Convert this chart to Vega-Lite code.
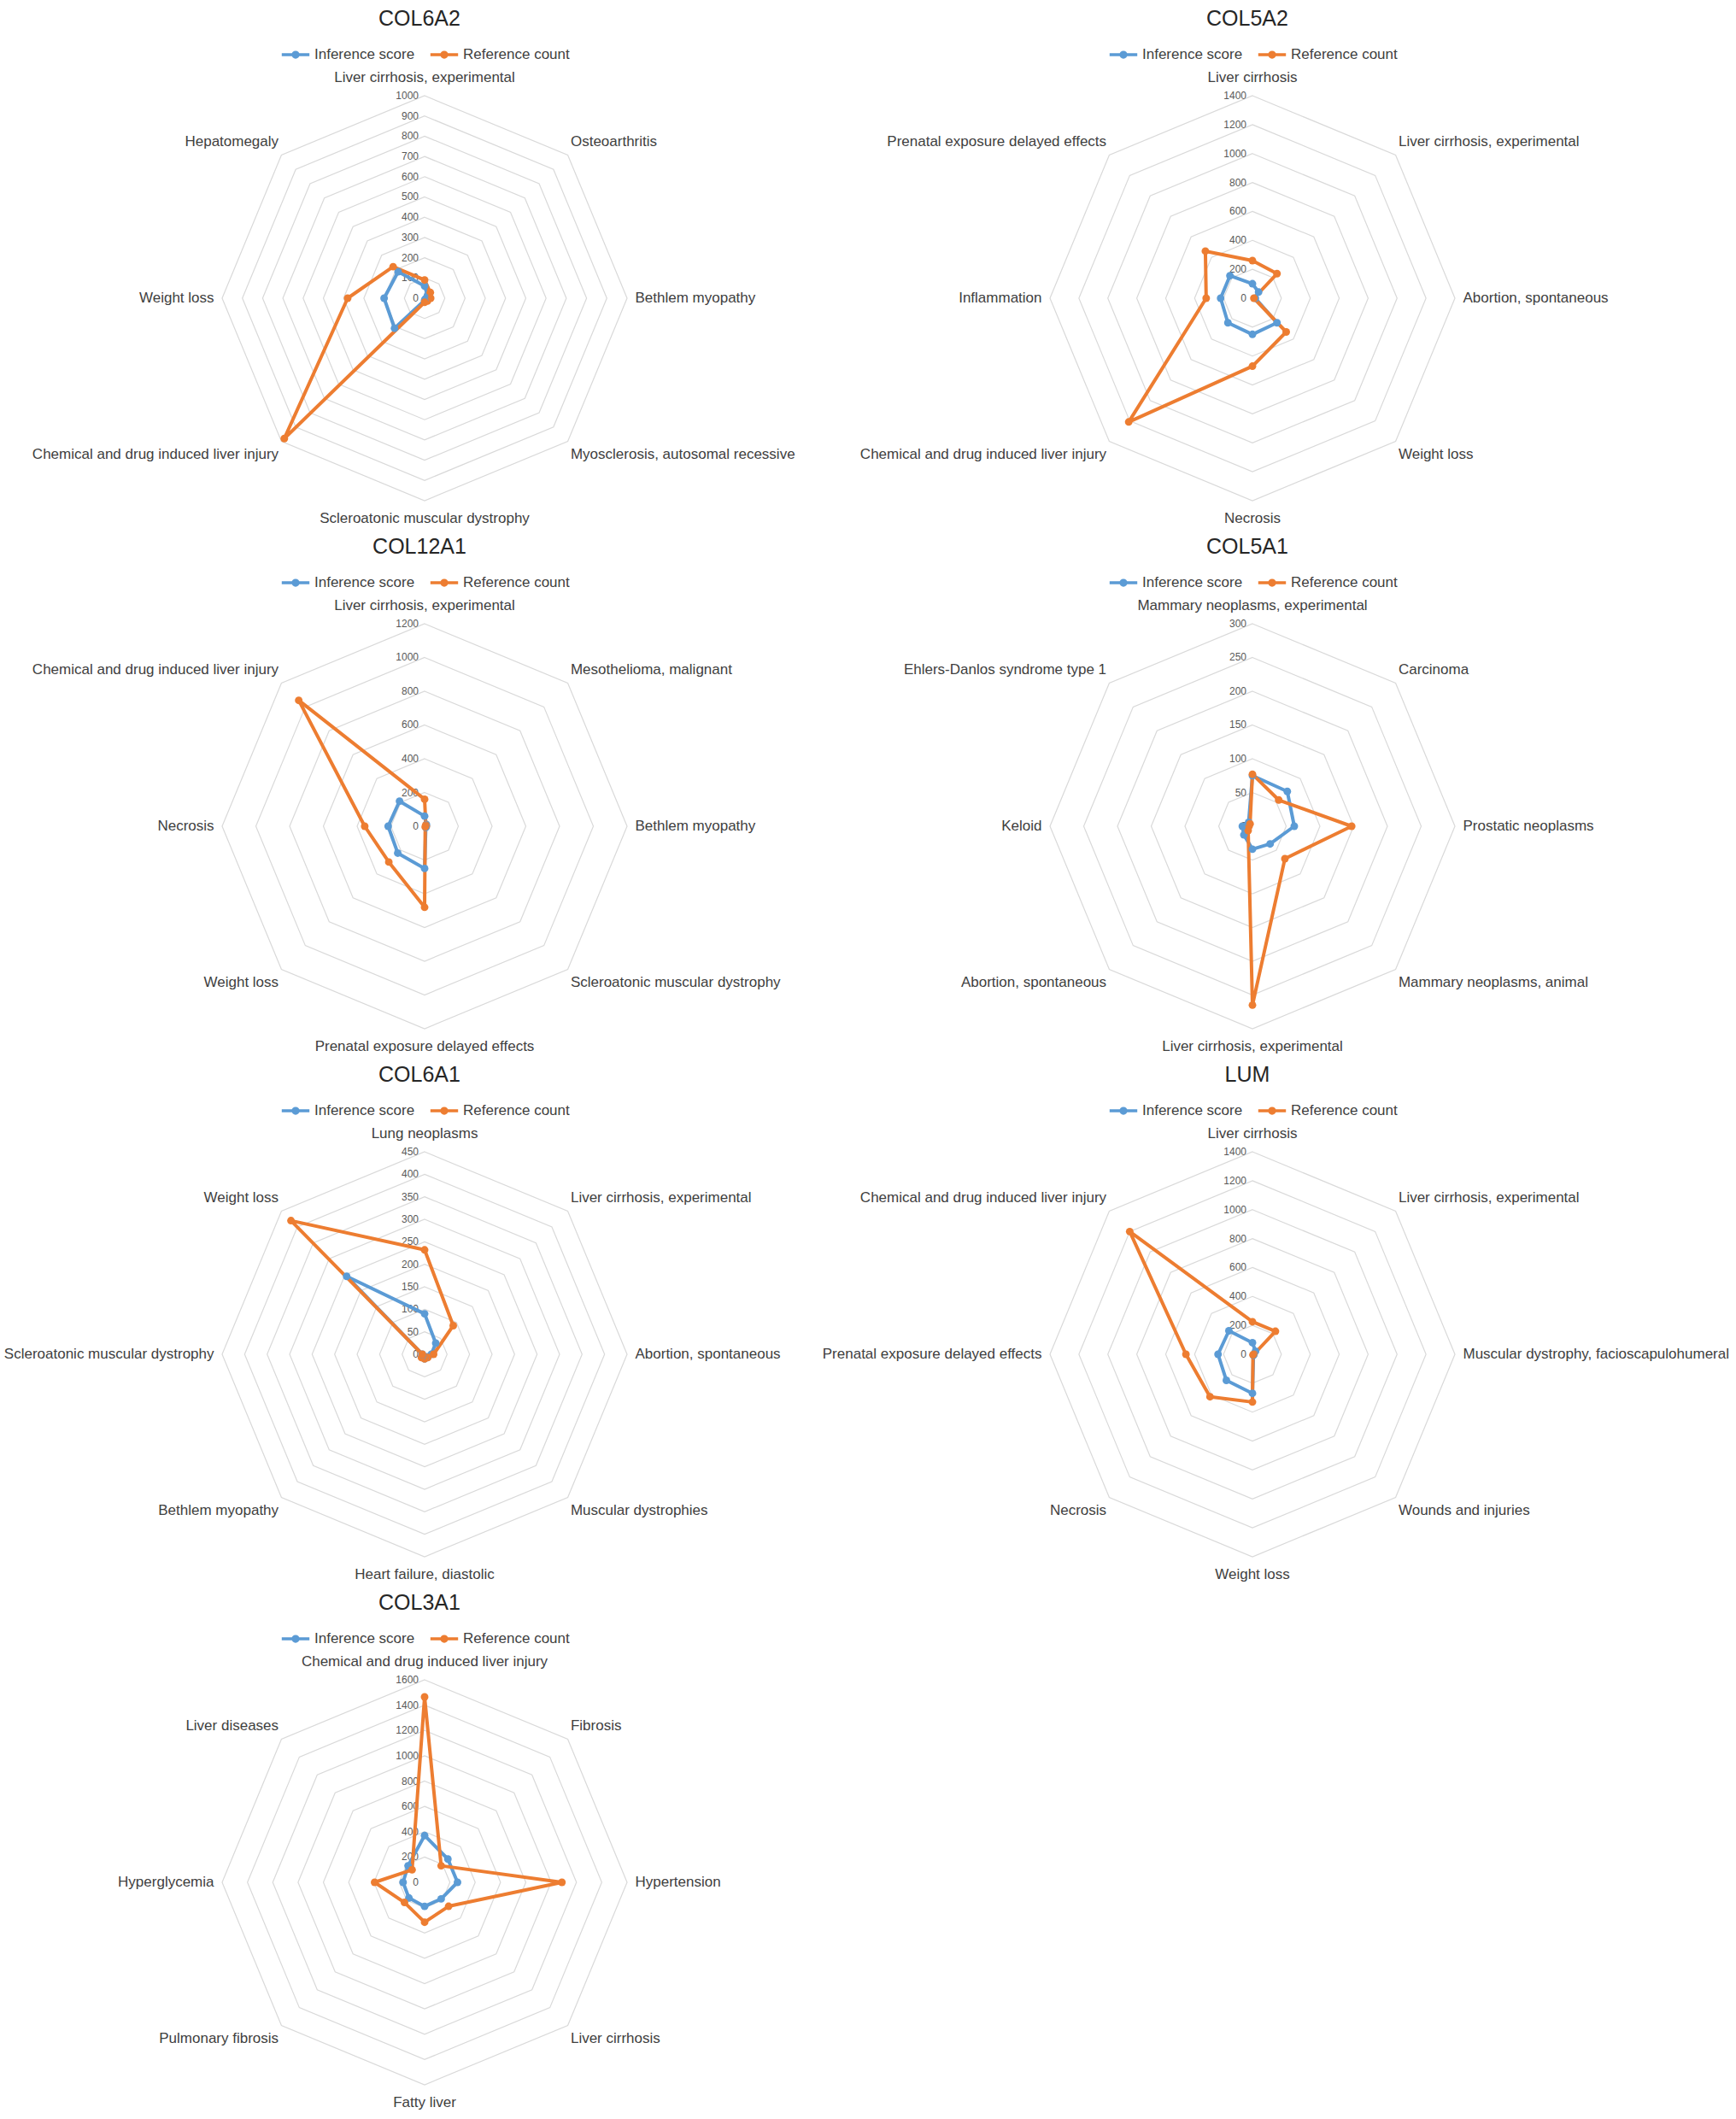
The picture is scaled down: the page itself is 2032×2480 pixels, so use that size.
{
"$schema": "https://vega.github.io/schema/vega-lite/v6.json",
"padding": {"left": 0, "top": 10, "right": 0, "bottom": 0},
"columns": 2,
"align": "each",
"bounds": "flush",
"spacing": {"row": 78, "column": 11},
"resolve": {"scale": {"color": "independent", "size": "independent"}, "legend": {"color": "independent"}},
"datasets": {
"vals": [
{"gene":"COL6A2","k":0,"disease":"Liver cirrhosis, experimental","inference":60,"reference":90},
{"gene":"COL6A2","k":1,"disease":"Osteoarthritis","inference":20,"reference":40},
{"gene":"COL6A2","k":2,"disease":"Bethlem myopathy","inference":10,"reference":30},
{"gene":"COL6A2","k":3,"disease":"Myosclerosis, autosomal recessive","inference":5,"reference":20},
{"gene":"COL6A2","k":4,"disease":"Scleroatonic muscular dystrophy","inference":10,"reference":20},
{"gene":"COL6A2","k":5,"disease":"Chemical and drug induced liver injury","inference":210,"reference":980},
{"gene":"COL6A2","k":6,"disease":"Weight loss","inference":200,"reference":380},
{"gene":"COL6A2","k":7,"disease":"Hepatomegaly","inference":185,"reference":220},
{"gene":"COL5A2","k":0,"disease":"Liver cirrhosis","inference":100,"reference":260},
{"gene":"COL5A2","k":1,"disease":"Liver cirrhosis, experimental","inference":60,"reference":240},
{"gene":"COL5A2","k":2,"disease":"Abortion, spontaneous","inference":20,"reference":10},
{"gene":"COL5A2","k":3,"disease":"Weight loss","inference":240,"reference":330},
{"gene":"COL5A2","k":4,"disease":"Necrosis","inference":250,"reference":470},
{"gene":"COL5A2","k":5,"disease":"Chemical and drug induced liver injury","inference":240,"reference":1210},
{"gene":"COL5A2","k":6,"disease":"Inflammation","inference":220,"reference":320},
{"gene":"COL5A2","k":7,"disease":"Prenatal exposure delayed effects","inference":220,"reference":460},
{"gene":"COL12A1","k":0,"disease":"Liver cirrhosis, experimental","inference":60,"reference":160},
{"gene":"COL12A1","k":1,"disease":"Mesothelioma, malignant","inference":15,"reference":10},
{"gene":"COL12A1","k":2,"disease":"Bethlem myopathy","inference":10,"reference":10},
{"gene":"COL12A1","k":3,"disease":"Scleroatonic muscular dystrophy","inference":10,"reference":5},
{"gene":"COL12A1","k":4,"disease":"Prenatal exposure delayed effects","inference":250,"reference":480},
{"gene":"COL12A1","k":5,"disease":"Weight loss","inference":225,"reference":300},
{"gene":"COL12A1","k":6,"disease":"Necrosis","inference":216,"reference":355},
{"gene":"COL12A1","k":7,"disease":"Chemical and drug induced liver injury","inference":210,"reference":1055},
{"gene":"COL5A1","k":0,"disease":"Mammary neoplasms, experimental","inference":75,"reference":77},
{"gene":"COL5A1","k":1,"disease":"Carcinoma","inference":73,"reference":55},
{"gene":"COL5A1","k":2,"disease":"Prostatic neoplasms","inference":62,"reference":147},
{"gene":"COL5A1","k":3,"disease":"Mammary neoplasms, animal","inference":37,"reference":68},
{"gene":"COL5A1","k":4,"disease":"Liver cirrhosis, experimental","inference":34,"reference":265},
{"gene":"COL5A1","k":5,"disease":"Abortion, spontaneous","inference":18,"reference":9},
{"gene":"COL5A1","k":6,"disease":"Keloid","inference":15,"reference":5},
{"gene":"COL5A1","k":7,"disease":"Ehlers-Danlos syndrome type 1","inference":8,"reference":5},
{"gene":"COL6A1","k":0,"disease":"Lung neoplasms","inference":90,"reference":232},
{"gene":"COL6A1","k":1,"disease":"Liver cirrhosis, experimental","inference":35,"reference":90},
{"gene":"COL6A1","k":2,"disease":"Abortion, spontaneous","inference":15,"reference":20},
{"gene":"COL6A1","k":3,"disease":"Muscular dystrophies","inference":8,"reference":10},
{"gene":"COL6A1","k":4,"disease":"Heart failure, diastolic","inference":10,"reference":10},
{"gene":"COL6A1","k":5,"disease":"Bethlem myopathy","inference":8,"reference":10},
{"gene":"COL6A1","k":6,"disease":"Scleroatonic muscular dystrophy","inference":5,"reference":5},
{"gene":"COL6A1","k":7,"disease":"Weight loss","inference":245,"reference":420},
{"gene":"LUM","k":0,"disease":"Liver cirrhosis","inference":80,"reference":225},
{"gene":"LUM","k":1,"disease":"Liver cirrhosis, experimental","inference":30,"reference":225},
{"gene":"LUM","k":2,"disease":"Muscular dystrophy, facioscapulohumeral","inference":10,"reference":10},
{"gene":"LUM","k":3,"disease":"Wounds and injuries","inference":10,"reference":5},
{"gene":"LUM","k":4,"disease":"Weight loss","inference":270,"reference":330},
{"gene":"LUM","k":5,"disease":"Necrosis","inference":255,"reference":415},
{"gene":"LUM","k":6,"disease":"Prenatal exposure delayed effects","inference":238,"reference":460},
{"gene":"LUM","k":7,"disease":"Chemical and drug induced liver injury","inference":230,"reference":1200},
{"gene":"COL3A1","k":0,"disease":"Chemical and drug induced liver injury","inference":370,"reference":1465},
{"gene":"COL3A1","k":1,"disease":"Fibrosis","inference":260,"reference":185},
{"gene":"COL3A1","k":2,"disease":"Hypertension","inference":260,"reference":1085},
{"gene":"COL3A1","k":3,"disease":"Liver cirrhosis","inference":185,"reference":268},
{"gene":"COL3A1","k":4,"disease":"Fatty liver","inference":190,"reference":315},
{"gene":"COL3A1","k":5,"disease":"Pulmonary fibrosis","inference":175,"reference":225},
{"gene":"COL3A1","k":6,"disease":"Hyperglycemia","inference":170,"reference":395},
{"gene":"COL3A1","k":7,"disease":"Liver diseases","inference":185,"reference":140}
],
"rings": [
{"gene":"COL6A2","tick":0},{"gene":"COL6A2","tick":100},{"gene":"COL6A2","tick":200},{"gene":"COL6A2","tick":300},{"gene":"COL6A2","tick":400},{"gene":"COL6A2","tick":500},{"gene":"COL6A2","tick":600},{"gene":"COL6A2","tick":700},{"gene":"COL6A2","tick":800},{"gene":"COL6A2","tick":900},{"gene":"COL6A2","tick":1000},
{"gene":"COL5A2","tick":0},{"gene":"COL5A2","tick":200},{"gene":"COL5A2","tick":400},{"gene":"COL5A2","tick":600},{"gene":"COL5A2","tick":800},{"gene":"COL5A2","tick":1000},{"gene":"COL5A2","tick":1200},{"gene":"COL5A2","tick":1400},
{"gene":"COL12A1","tick":0},{"gene":"COL12A1","tick":200},{"gene":"COL12A1","tick":400},{"gene":"COL12A1","tick":600},{"gene":"COL12A1","tick":800},{"gene":"COL12A1","tick":1000},{"gene":"COL12A1","tick":1200},
{"gene":"COL5A1","tick":0},{"gene":"COL5A1","tick":50},{"gene":"COL5A1","tick":100},{"gene":"COL5A1","tick":150},{"gene":"COL5A1","tick":200},{"gene":"COL5A1","tick":250},{"gene":"COL5A1","tick":300},
{"gene":"COL6A1","tick":0},{"gene":"COL6A1","tick":50},{"gene":"COL6A1","tick":100},{"gene":"COL6A1","tick":150},{"gene":"COL6A1","tick":200},{"gene":"COL6A1","tick":250},{"gene":"COL6A1","tick":300},{"gene":"COL6A1","tick":350},{"gene":"COL6A1","tick":400},{"gene":"COL6A1","tick":450},
{"gene":"LUM","tick":0},{"gene":"LUM","tick":200},{"gene":"LUM","tick":400},{"gene":"LUM","tick":600},{"gene":"LUM","tick":800},{"gene":"LUM","tick":1000},{"gene":"LUM","tick":1200},{"gene":"LUM","tick":1400},
{"gene":"COL3A1","tick":0},{"gene":"COL3A1","tick":200},{"gene":"COL3A1","tick":400},{"gene":"COL3A1","tick":600},{"gene":"COL3A1","tick":800},{"gene":"COL3A1","tick":1000},{"gene":"COL3A1","tick":1200},{"gene":"COL3A1","tick":1400},{"gene":"COL3A1","tick":1600}
]
},
"concat": [
{
"title": {"text": "COL6A2"},
"width": 994, "height": 540,
"layer": [
{"data": {"name": "rings"}, "transform": [{"filter": "datum.gene === 'COL6A2'"}],
 "mark": {"type": "point", "shape": "M0,-1L0.70711,-0.70711L1,0L0.70711,0.70711L0,1L-0.70711,0.70711L-1,0L-0.70711,-0.70711Z", "filled": false, "stroke": "#d9d9d9", "strokeWidth": 1.2, "opacity": 1},
 "encoding": {
  "x": {"datum": 0, "type": "quantitative", "scale": {"domain": [-2.09705, 2.09705], "nice": false, "zero": false}, "axis": null},
  "y": {"datum": 0, "type": "quantitative", "scale": {"domain": [-1.13924, 1.13924], "nice": false, "zero": false}, "axis": null},
  "size": {"field": "tick", "type": "quantitative", "scale": {"type": "pow", "exponent": 2, "domain": [0, 1000], "range": [0, 224676]}, "legend": null}}},
{"data": {"name": "rings"}, "transform": [{"filter": "datum.gene === 'COL6A2'"}, {"calculate": "datum.tick / 1000", "as": "ty"}],
 "mark": {"type": "text", "align": "right", "baseline": "middle", "dx": -7, "fontSize": 12, "color": "#595959"},
 "encoding": {"x": {"datum": 0, "type": "quantitative"}, "y": {"field": "ty", "type": "quantitative"}, "text": {"field": "tick", "type": "quantitative", "format": "d"}}},
{"data": {"name": "vals"}, "transform": [{"filter": "datum.gene === 'COL6A2' && datum.k >= 1 && datum.k <= 3"}, {"calculate": "sin(datum.k*PI/4) + 0.04*pow(sin(datum.k*PI/4),3)", "as": "lx"}, {"calculate": "1.09*cos(datum.k*PI/4)", "as": "ly"}],
 "mark": {"type": "text", "align": "left", "baseline": "middle", "fontSize": 17, "color": "#404040"},
 "encoding": {"x": {"field": "lx", "type": "quantitative"}, "y": {"field": "ly", "type": "quantitative"}, "text": {"field": "disease"}}},
{"data": {"name": "vals"}, "transform": [{"filter": "datum.gene === 'COL6A2' && datum.k >= 5"}, {"calculate": "sin(datum.k*PI/4) + 0.04*pow(sin(datum.k*PI/4),3)", "as": "lx"}, {"calculate": "1.09*cos(datum.k*PI/4)", "as": "ly"}],
 "mark": {"type": "text", "align": "right", "baseline": "middle", "fontSize": 17, "color": "#404040"},
 "encoding": {"x": {"field": "lx", "type": "quantitative"}, "y": {"field": "ly", "type": "quantitative"}, "text": {"field": "disease"}}},
{"data": {"name": "vals"}, "transform": [{"filter": "datum.gene === 'COL6A2' && (datum.k === 0 || datum.k === 4)"}, {"calculate": "0", "as": "lx"}, {"calculate": "1.09*cos(datum.k*PI/4)", "as": "ly"}],
 "mark": {"type": "text", "align": "center", "baseline": "middle", "fontSize": 17, "color": "#404040"},
 "encoding": {"x": {"field": "lx", "type": "quantitative"}, "y": {"field": "ly", "type": "quantitative"}, "text": {"field": "disease"}}},
{"data": {"name": "vals"}, "transform": [{"filter": "datum.gene === 'COL6A2'"}, {"fold": ["inference", "reference"], "as": ["key", "value"]}, {"calculate": "datum.key === 'inference' ? 'Inference score' : 'Reference count'", "as": "series"}, {"calculate": "datum.value / 1000 * sin(datum.k*PI/4)", "as": "px"}, {"calculate": "datum.value / 1000 * cos(datum.k*PI/4)", "as": "py"}],
 "mark": {"type": "line", "interpolate": "linear-closed", "strokeWidth": 4, "strokeJoin": "round", "point": {"filled": true, "size": 80, "opacity": 1}},
 "encoding": {"x": {"field": "px", "type": "quantitative"}, "y": {"field": "py", "type": "quantitative"}, "order": {"field": "k", "type": "quantitative"},
  "color": {"field": "series", "type": "nominal", "scale": {"domain": ["Inference score", "Reference count"], "range": ["#5b9bd5", "#ed7d31"]}, "legend": {"title": null}}}}
]
},
{
"title": {"text": "COL5A2"},
"width": 922, "height": 540,
"layer": [
{"data": {"name": "rings"}, "transform": [{"filter": "datum.gene === 'COL5A2'"}],
 "mark": {"type": "point", "shape": "M0,-1L0.70711,-0.70711L1,0L0.70711,0.70711L0,1L-0.70711,0.70711L-1,0L-0.70711,-0.70711Z", "filled": false, "stroke": "#d9d9d9", "strokeWidth": 1.2, "opacity": 1},
 "encoding": {
  "x": {"datum": 0, "type": "quantitative", "scale": {"domain": [-1.94515, 1.94515], "nice": false, "zero": false}, "axis": null},
  "y": {"datum": 0, "type": "quantitative", "scale": {"domain": [-1.13924, 1.13924], "nice": false, "zero": false}, "axis": null},
  "size": {"field": "tick", "type": "quantitative", "scale": {"type": "pow", "exponent": 2, "domain": [0, 1400], "range": [0, 224676]}, "legend": null}}},
{"data": {"name": "rings"}, "transform": [{"filter": "datum.gene === 'COL5A2'"}, {"calculate": "datum.tick / 1400", "as": "ty"}],
 "mark": {"type": "text", "align": "right", "baseline": "middle", "dx": -7, "fontSize": 12, "color": "#595959"},
 "encoding": {"x": {"datum": 0, "type": "quantitative"}, "y": {"field": "ty", "type": "quantitative"}, "text": {"field": "tick", "type": "quantitative", "format": "d"}}},
{"data": {"name": "vals"}, "transform": [{"filter": "datum.gene === 'COL5A2' && datum.k >= 1 && datum.k <= 3"}, {"calculate": "sin(datum.k*PI/4) + 0.04*pow(sin(datum.k*PI/4),3)", "as": "lx"}, {"calculate": "1.09*cos(datum.k*PI/4)", "as": "ly"}],
 "mark": {"type": "text", "align": "left", "baseline": "middle", "fontSize": 17, "color": "#404040"},
 "encoding": {"x": {"field": "lx", "type": "quantitative"}, "y": {"field": "ly", "type": "quantitative"}, "text": {"field": "disease"}}},
{"data": {"name": "vals"}, "transform": [{"filter": "datum.gene === 'COL5A2' && datum.k >= 5"}, {"calculate": "sin(datum.k*PI/4) + 0.04*pow(sin(datum.k*PI/4),3)", "as": "lx"}, {"calculate": "1.09*cos(datum.k*PI/4)", "as": "ly"}],
 "mark": {"type": "text", "align": "right", "baseline": "middle", "fontSize": 17, "color": "#404040"},
 "encoding": {"x": {"field": "lx", "type": "quantitative"}, "y": {"field": "ly", "type": "quantitative"}, "text": {"field": "disease"}}},
{"data": {"name": "vals"}, "transform": [{"filter": "datum.gene === 'COL5A2' && (datum.k === 0 || datum.k === 4)"}, {"calculate": "0", "as": "lx"}, {"calculate": "1.09*cos(datum.k*PI/4)", "as": "ly"}],
 "mark": {"type": "text", "align": "center", "baseline": "middle", "fontSize": 17, "color": "#404040"},
 "encoding": {"x": {"field": "lx", "type": "quantitative"}, "y": {"field": "ly", "type": "quantitative"}, "text": {"field": "disease"}}},
{"data": {"name": "vals"}, "transform": [{"filter": "datum.gene === 'COL5A2'"}, {"fold": ["inference", "reference"], "as": ["key", "value"]}, {"calculate": "datum.key === 'inference' ? 'Inference score' : 'Reference count'", "as": "series"}, {"calculate": "datum.value / 1400 * sin(datum.k*PI/4)", "as": "px"}, {"calculate": "datum.value / 1400 * cos(datum.k*PI/4)", "as": "py"}],
 "mark": {"type": "line", "interpolate": "linear-closed", "strokeWidth": 4, "strokeJoin": "round", "point": {"filled": true, "size": 80, "opacity": 1}},
 "encoding": {"x": {"field": "px", "type": "quantitative"}, "y": {"field": "py", "type": "quantitative"}, "order": {"field": "k", "type": "quantitative"},
  "color": {"field": "series", "type": "nominal", "scale": {"domain": ["Inference score", "Reference count"], "range": ["#5b9bd5", "#ed7d31"]}, "legend": {"title": null}}}}
]
},
{
"title": {"text": "COL12A1"},
"width": 994, "height": 540,
"layer": [
{"data": {"name": "rings"}, "transform": [{"filter": "datum.gene === 'COL12A1'"}],
 "mark": {"type": "point", "shape": "M0,-1L0.70711,-0.70711L1,0L0.70711,0.70711L0,1L-0.70711,0.70711L-1,0L-0.70711,-0.70711Z", "filled": false, "stroke": "#d9d9d9", "strokeWidth": 1.2, "opacity": 1},
 "encoding": {
  "x": {"datum": 0, "type": "quantitative", "scale": {"domain": [-2.09705, 2.09705], "nice": false, "zero": false}, "axis": null},
  "y": {"datum": 0, "type": "quantitative", "scale": {"domain": [-1.13924, 1.13924], "nice": false, "zero": false}, "axis": null},
  "size": {"field": "tick", "type": "quantitative", "scale": {"type": "pow", "exponent": 2, "domain": [0, 1200], "range": [0, 224676]}, "legend": null}}},
{"data": {"name": "rings"}, "transform": [{"filter": "datum.gene === 'COL12A1'"}, {"calculate": "datum.tick / 1200", "as": "ty"}],
 "mark": {"type": "text", "align": "right", "baseline": "middle", "dx": -7, "fontSize": 12, "color": "#595959"},
 "encoding": {"x": {"datum": 0, "type": "quantitative"}, "y": {"field": "ty", "type": "quantitative"}, "text": {"field": "tick", "type": "quantitative", "format": "d"}}},
{"data": {"name": "vals"}, "transform": [{"filter": "datum.gene === 'COL12A1' && datum.k >= 1 && datum.k <= 3"}, {"calculate": "sin(datum.k*PI/4) + 0.04*pow(sin(datum.k*PI/4),3)", "as": "lx"}, {"calculate": "1.09*cos(datum.k*PI/4)", "as": "ly"}],
 "mark": {"type": "text", "align": "left", "baseline": "middle", "fontSize": 17, "color": "#404040"},
 "encoding": {"x": {"field": "lx", "type": "quantitative"}, "y": {"field": "ly", "type": "quantitative"}, "text": {"field": "disease"}}},
{"data": {"name": "vals"}, "transform": [{"filter": "datum.gene === 'COL12A1' && datum.k >= 5"}, {"calculate": "sin(datum.k*PI/4) + 0.04*pow(sin(datum.k*PI/4),3)", "as": "lx"}, {"calculate": "1.09*cos(datum.k*PI/4)", "as": "ly"}],
 "mark": {"type": "text", "align": "right", "baseline": "middle", "fontSize": 17, "color": "#404040"},
 "encoding": {"x": {"field": "lx", "type": "quantitative"}, "y": {"field": "ly", "type": "quantitative"}, "text": {"field": "disease"}}},
{"data": {"name": "vals"}, "transform": [{"filter": "datum.gene === 'COL12A1' && (datum.k === 0 || datum.k === 4)"}, {"calculate": "0", "as": "lx"}, {"calculate": "1.09*cos(datum.k*PI/4)", "as": "ly"}],
 "mark": {"type": "text", "align": "center", "baseline": "middle", "fontSize": 17, "color": "#404040"},
 "encoding": {"x": {"field": "lx", "type": "quantitative"}, "y": {"field": "ly", "type": "quantitative"}, "text": {"field": "disease"}}},
{"data": {"name": "vals"}, "transform": [{"filter": "datum.gene === 'COL12A1'"}, {"fold": ["inference", "reference"], "as": ["key", "value"]}, {"calculate": "datum.key === 'inference' ? 'Inference score' : 'Reference count'", "as": "series"}, {"calculate": "datum.value / 1200 * sin(datum.k*PI/4)", "as": "px"}, {"calculate": "datum.value / 1200 * cos(datum.k*PI/4)", "as": "py"}],
 "mark": {"type": "line", "interpolate": "linear-closed", "strokeWidth": 4, "strokeJoin": "round", "point": {"filled": true, "size": 80, "opacity": 1}},
 "encoding": {"x": {"field": "px", "type": "quantitative"}, "y": {"field": "py", "type": "quantitative"}, "order": {"field": "k", "type": "quantitative"},
  "color": {"field": "series", "type": "nominal", "scale": {"domain": ["Inference score", "Reference count"], "range": ["#5b9bd5", "#ed7d31"]}, "legend": {"title": null}}}}
]
},
{
"title": {"text": "COL5A1"},
"width": 922, "height": 540,
"layer": [
{"data": {"name": "rings"}, "transform": [{"filter": "datum.gene === 'COL5A1'"}],
 "mark": {"type": "point", "shape": "M0,-1L0.70711,-0.70711L1,0L0.70711,0.70711L0,1L-0.70711,0.70711L-1,0L-0.70711,-0.70711Z", "filled": false, "stroke": "#d9d9d9", "strokeWidth": 1.2, "opacity": 1},
 "encoding": {
  "x": {"datum": 0, "type": "quantitative", "scale": {"domain": [-1.94515, 1.94515], "nice": false, "zero": false}, "axis": null},
  "y": {"datum": 0, "type": "quantitative", "scale": {"domain": [-1.13924, 1.13924], "nice": false, "zero": false}, "axis": null},
  "size": {"field": "tick", "type": "quantitative", "scale": {"type": "pow", "exponent": 2, "domain": [0, 300], "range": [0, 224676]}, "legend": null}}},
{"data": {"name": "rings"}, "transform": [{"filter": "datum.gene === 'COL5A1'"}, {"calculate": "datum.tick / 300", "as": "ty"}],
 "mark": {"type": "text", "align": "right", "baseline": "middle", "dx": -7, "fontSize": 12, "color": "#595959"},
 "encoding": {"x": {"datum": 0, "type": "quantitative"}, "y": {"field": "ty", "type": "quantitative"}, "text": {"field": "tick", "type": "quantitative", "format": "d"}}},
{"data": {"name": "vals"}, "transform": [{"filter": "datum.gene === 'COL5A1' && datum.k >= 1 && datum.k <= 3"}, {"calculate": "sin(datum.k*PI/4) + 0.04*pow(sin(datum.k*PI/4),3)", "as": "lx"}, {"calculate": "1.09*cos(datum.k*PI/4)", "as": "ly"}],
 "mark": {"type": "text", "align": "left", "baseline": "middle", "fontSize": 17, "color": "#404040"},
 "encoding": {"x": {"field": "lx", "type": "quantitative"}, "y": {"field": "ly", "type": "quantitative"}, "text": {"field": "disease"}}},
{"data": {"name": "vals"}, "transform": [{"filter": "datum.gene === 'COL5A1' && datum.k >= 5"}, {"calculate": "sin(datum.k*PI/4) + 0.04*pow(sin(datum.k*PI/4),3)", "as": "lx"}, {"calculate": "1.09*cos(datum.k*PI/4)", "as": "ly"}],
 "mark": {"type": "text", "align": "right", "baseline": "middle", "fontSize": 17, "color": "#404040"},
 "encoding": {"x": {"field": "lx", "type": "quantitative"}, "y": {"field": "ly", "type": "quantitative"}, "text": {"field": "disease"}}},
{"data": {"name": "vals"}, "transform": [{"filter": "datum.gene === 'COL5A1' && (datum.k === 0 || datum.k === 4)"}, {"calculate": "0", "as": "lx"}, {"calculate": "1.09*cos(datum.k*PI/4)", "as": "ly"}],
 "mark": {"type": "text", "align": "center", "baseline": "middle", "fontSize": 17, "color": "#404040"},
 "encoding": {"x": {"field": "lx", "type": "quantitative"}, "y": {"field": "ly", "type": "quantitative"}, "text": {"field": "disease"}}},
{"data": {"name": "vals"}, "transform": [{"filter": "datum.gene === 'COL5A1'"}, {"fold": ["inference", "reference"], "as": ["key", "value"]}, {"calculate": "datum.key === 'inference' ? 'Inference score' : 'Reference count'", "as": "series"}, {"calculate": "datum.value / 300 * sin(datum.k*PI/4)", "as": "px"}, {"calculate": "datum.value / 300 * cos(datum.k*PI/4)", "as": "py"}],
 "mark": {"type": "line", "interpolate": "linear-closed", "strokeWidth": 4, "strokeJoin": "round", "point": {"filled": true, "size": 80, "opacity": 1}},
 "encoding": {"x": {"field": "px", "type": "quantitative"}, "y": {"field": "py", "type": "quantitative"}, "order": {"field": "k", "type": "quantitative"},
  "color": {"field": "series", "type": "nominal", "scale": {"domain": ["Inference score", "Reference count"], "range": ["#5b9bd5", "#ed7d31"]}, "legend": {"title": null}}}}
]
},
{
"title": {"text": "COL6A1"},
"width": 994, "height": 540,
"layer": [
{"data": {"name": "rings"}, "transform": [{"filter": "datum.gene === 'COL6A1'"}],
 "mark": {"type": "point", "shape": "M0,-1L0.70711,-0.70711L1,0L0.70711,0.70711L0,1L-0.70711,0.70711L-1,0L-0.70711,-0.70711Z", "filled": false, "stroke": "#d9d9d9", "strokeWidth": 1.2, "opacity": 1},
 "encoding": {
  "x": {"datum": 0, "type": "quantitative", "scale": {"domain": [-2.09705, 2.09705], "nice": false, "zero": false}, "axis": null},
  "y": {"datum": 0, "type": "quantitative", "scale": {"domain": [-1.13924, 1.13924], "nice": false, "zero": false}, "axis": null},
  "size": {"field": "tick", "type": "quantitative", "scale": {"type": "pow", "exponent": 2, "domain": [0, 450], "range": [0, 224676]}, "legend": null}}},
{"data": {"name": "rings"}, "transform": [{"filter": "datum.gene === 'COL6A1'"}, {"calculate": "datum.tick / 450", "as": "ty"}],
 "mark": {"type": "text", "align": "right", "baseline": "middle", "dx": -7, "fontSize": 12, "color": "#595959"},
 "encoding": {"x": {"datum": 0, "type": "quantitative"}, "y": {"field": "ty", "type": "quantitative"}, "text": {"field": "tick", "type": "quantitative", "format": "d"}}},
{"data": {"name": "vals"}, "transform": [{"filter": "datum.gene === 'COL6A1' && datum.k >= 1 && datum.k <= 3"}, {"calculate": "sin(datum.k*PI/4) + 0.04*pow(sin(datum.k*PI/4),3)", "as": "lx"}, {"calculate": "1.09*cos(datum.k*PI/4)", "as": "ly"}],
 "mark": {"type": "text", "align": "left", "baseline": "middle", "fontSize": 17, "color": "#404040"},
 "encoding": {"x": {"field": "lx", "type": "quantitative"}, "y": {"field": "ly", "type": "quantitative"}, "text": {"field": "disease"}}},
{"data": {"name": "vals"}, "transform": [{"filter": "datum.gene === 'COL6A1' && datum.k >= 5"}, {"calculate": "sin(datum.k*PI/4) + 0.04*pow(sin(datum.k*PI/4),3)", "as": "lx"}, {"calculate": "1.09*cos(datum.k*PI/4)", "as": "ly"}],
 "mark": {"type": "text", "align": "right", "baseline": "middle", "fontSize": 17, "color": "#404040"},
 "encoding": {"x": {"field": "lx", "type": "quantitative"}, "y": {"field": "ly", "type": "quantitative"}, "text": {"field": "disease"}}},
{"data": {"name": "vals"}, "transform": [{"filter": "datum.gene === 'COL6A1' && (datum.k === 0 || datum.k === 4)"}, {"calculate": "0", "as": "lx"}, {"calculate": "1.09*cos(datum.k*PI/4)", "as": "ly"}],
 "mark": {"type": "text", "align": "center", "baseline": "middle", "fontSize": 17, "color": "#404040"},
 "encoding": {"x": {"field": "lx", "type": "quantitative"}, "y": {"field": "ly", "type": "quantitative"}, "text": {"field": "disease"}}},
{"data": {"name": "vals"}, "transform": [{"filter": "datum.gene === 'COL6A1'"}, {"fold": ["inference", "reference"], "as": ["key", "value"]}, {"calculate": "datum.key === 'inference' ? 'Inference score' : 'Reference count'", "as": "series"}, {"calculate": "datum.value / 450 * sin(datum.k*PI/4)", "as": "px"}, {"calculate": "datum.value / 450 * cos(datum.k*PI/4)", "as": "py"}],
 "mark": {"type": "line", "interpolate": "linear-closed", "strokeWidth": 4, "strokeJoin": "round", "point": {"filled": true, "size": 80, "opacity": 1}},
 "encoding": {"x": {"field": "px", "type": "quantitative"}, "y": {"field": "py", "type": "quantitative"}, "order": {"field": "k", "type": "quantitative"},
  "color": {"field": "series", "type": "nominal", "scale": {"domain": ["Inference score", "Reference count"], "range": ["#5b9bd5", "#ed7d31"]}, "legend": {"title": null}}}}
]
},
{
"title": {"text": "LUM"},
"width": 922, "height": 540,
"layer": [
{"data": {"name": "rings"}, "transform": [{"filter": "datum.gene === 'LUM'"}],
 "mark": {"type": "point", "shape": "M0,-1L0.70711,-0.70711L1,0L0.70711,0.70711L0,1L-0.70711,0.70711L-1,0L-0.70711,-0.70711Z", "filled": false, "stroke": "#d9d9d9", "strokeWidth": 1.2, "opacity": 1},
 "encoding": {
  "x": {"datum": 0, "type": "quantitative", "scale": {"domain": [-1.94515, 1.94515], "nice": false, "zero": false}, "axis": null},
  "y": {"datum": 0, "type": "quantitative", "scale": {"domain": [-1.13924, 1.13924], "nice": false, "zero": false}, "axis": null},
  "size": {"field": "tick", "type": "quantitative", "scale": {"type": "pow", "exponent": 2, "domain": [0, 1400], "range": [0, 224676]}, "legend": null}}},
{"data": {"name": "rings"}, "transform": [{"filter": "datum.gene === 'LUM'"}, {"calculate": "datum.tick / 1400", "as": "ty"}],
 "mark": {"type": "text", "align": "right", "baseline": "middle", "dx": -7, "fontSize": 12, "color": "#595959"},
 "encoding": {"x": {"datum": 0, "type": "quantitative"}, "y": {"field": "ty", "type": "quantitative"}, "text": {"field": "tick", "type": "quantitative", "format": "d"}}},
{"data": {"name": "vals"}, "transform": [{"filter": "datum.gene === 'LUM' && datum.k >= 1 && datum.k <= 3"}, {"calculate": "sin(datum.k*PI/4) + 0.04*pow(sin(datum.k*PI/4),3)", "as": "lx"}, {"calculate": "1.09*cos(datum.k*PI/4)", "as": "ly"}],
 "mark": {"type": "text", "align": "left", "baseline": "middle", "fontSize": 17, "color": "#404040"},
 "encoding": {"x": {"field": "lx", "type": "quantitative"}, "y": {"field": "ly", "type": "quantitative"}, "text": {"field": "disease"}}},
{"data": {"name": "vals"}, "transform": [{"filter": "datum.gene === 'LUM' && datum.k >= 5"}, {"calculate": "sin(datum.k*PI/4) + 0.04*pow(sin(datum.k*PI/4),3)", "as": "lx"}, {"calculate": "1.09*cos(datum.k*PI/4)", "as": "ly"}],
 "mark": {"type": "text", "align": "right", "baseline": "middle", "fontSize": 17, "color": "#404040"},
 "encoding": {"x": {"field": "lx", "type": "quantitative"}, "y": {"field": "ly", "type": "quantitative"}, "text": {"field": "disease"}}},
{"data": {"name": "vals"}, "transform": [{"filter": "datum.gene === 'LUM' && (datum.k === 0 || datum.k === 4)"}, {"calculate": "0", "as": "lx"}, {"calculate": "1.09*cos(datum.k*PI/4)", "as": "ly"}],
 "mark": {"type": "text", "align": "center", "baseline": "middle", "fontSize": 17, "color": "#404040"},
 "encoding": {"x": {"field": "lx", "type": "quantitative"}, "y": {"field": "ly", "type": "quantitative"}, "text": {"field": "disease"}}},
{"data": {"name": "vals"}, "transform": [{"filter": "datum.gene === 'LUM'"}, {"fold": ["inference", "reference"], "as": ["key", "value"]}, {"calculate": "datum.key === 'inference' ? 'Inference score' : 'Reference count'", "as": "series"}, {"calculate": "datum.value / 1400 * sin(datum.k*PI/4)", "as": "px"}, {"calculate": "datum.value / 1400 * cos(datum.k*PI/4)", "as": "py"}],
 "mark": {"type": "line", "interpolate": "linear-closed", "strokeWidth": 4, "strokeJoin": "round", "point": {"filled": true, "size": 80, "opacity": 1}},
 "encoding": {"x": {"field": "px", "type": "quantitative"}, "y": {"field": "py", "type": "quantitative"}, "order": {"field": "k", "type": "quantitative"},
  "color": {"field": "series", "type": "nominal", "scale": {"domain": ["Inference score", "Reference count"], "range": ["#5b9bd5", "#ed7d31"]}, "legend": {"title": null}}}}
]
},
{
"title": {"text": "COL3A1"},
"width": 994, "height": 540,
"layer": [
{"data": {"name": "rings"}, "transform": [{"filter": "datum.gene === 'COL3A1'"}],
 "mark": {"type": "point", "shape": "M0,-1L0.70711,-0.70711L1,0L0.70711,0.70711L0,1L-0.70711,0.70711L-1,0L-0.70711,-0.70711Z", "filled": false, "stroke": "#d9d9d9", "strokeWidth": 1.2, "opacity": 1},
 "encoding": {
  "x": {"datum": 0, "type": "quantitative", "scale": {"domain": [-2.09705, 2.09705], "nice": false, "zero": false}, "axis": null},
  "y": {"datum": 0, "type": "quantitative", "scale": {"domain": [-1.13924, 1.13924], "nice": false, "zero": false}, "axis": null},
  "size": {"field": "tick", "type": "quantitative", "scale": {"type": "pow", "exponent": 2, "domain": [0, 1600], "range": [0, 224676]}, "legend": null}}},
{"data": {"name": "rings"}, "transform": [{"filter": "datum.gene === 'COL3A1'"}, {"calculate": "datum.tick / 1600", "as": "ty"}],
 "mark": {"type": "text", "align": "right", "baseline": "middle", "dx": -7, "fontSize": 12, "color": "#595959"},
 "encoding": {"x": {"datum": 0, "type": "quantitative"}, "y": {"field": "ty", "type": "quantitative"}, "text": {"field": "tick", "type": "quantitative", "format": "d"}}},
{"data": {"name": "vals"}, "transform": [{"filter": "datum.gene === 'COL3A1' && datum.k >= 1 && datum.k <= 3"}, {"calculate": "sin(datum.k*PI/4) + 0.04*pow(sin(datum.k*PI/4),3)", "as": "lx"}, {"calculate": "1.09*cos(datum.k*PI/4)", "as": "ly"}],
 "mark": {"type": "text", "align": "left", "baseline": "middle", "fontSize": 17, "color": "#404040"},
 "encoding": {"x": {"field": "lx", "type": "quantitative"}, "y": {"field": "ly", "type": "quantitative"}, "text": {"field": "disease"}}},
{"data": {"name": "vals"}, "transform": [{"filter": "datum.gene === 'COL3A1' && datum.k >= 5"}, {"calculate": "sin(datum.k*PI/4) + 0.04*pow(sin(datum.k*PI/4),3)", "as": "lx"}, {"calculate": "1.09*cos(datum.k*PI/4)", "as": "ly"}],
 "mark": {"type": "text", "align": "right", "baseline": "middle", "fontSize": 17, "color": "#404040"},
 "encoding": {"x": {"field": "lx", "type": "quantitative"}, "y": {"field": "ly", "type": "quantitative"}, "text": {"field": "disease"}}},
{"data": {"name": "vals"}, "transform": [{"filter": "datum.gene === 'COL3A1' && (datum.k === 0 || datum.k === 4)"}, {"calculate": "0", "as": "lx"}, {"calculate": "1.09*cos(datum.k*PI/4)", "as": "ly"}],
 "mark": {"type": "text", "align": "center", "baseline": "middle", "fontSize": 17, "color": "#404040"},
 "encoding": {"x": {"field": "lx", "type": "quantitative"}, "y": {"field": "ly", "type": "quantitative"}, "text": {"field": "disease"}}},
{"data": {"name": "vals"}, "transform": [{"filter": "datum.gene === 'COL3A1'"}, {"fold": ["inference", "reference"], "as": ["key", "value"]}, {"calculate": "datum.key === 'inference' ? 'Inference score' : 'Reference count'", "as": "series"}, {"calculate": "datum.value / 1600 * sin(datum.k*PI/4)", "as": "px"}, {"calculate": "datum.value / 1600 * cos(datum.k*PI/4)", "as": "py"}],
 "mark": {"type": "line", "interpolate": "linear-closed", "strokeWidth": 4, "strokeJoin": "round", "point": {"filled": true, "size": 80, "opacity": 1}},
 "encoding": {"x": {"field": "px", "type": "quantitative"}, "y": {"field": "py", "type": "quantitative"}, "order": {"field": "k", "type": "quantitative"},
  "color": {"field": "series", "type": "nominal", "scale": {"domain": ["Inference score", "Reference count"], "range": ["#5b9bd5", "#ed7d31"]}, "legend": {"title": null}}}}
]
}
],
"config": {
 "font": "Liberation Sans",
 "view": {"stroke": null},
 "axis": {"disable": true},
 "title": {"fontSize": 25, "fontWeight": "normal", "color": "#262626", "anchor": "middle", "frame": "group", "offset": 11, "dx": -6},
 "legend": {"orient": "top", "direction": "horizontal", "labelFontSize": 17, "labelColor": "#404040", "symbolType": "M-1,0H1M0.18,0A0.18,0.18 0 1,1 -0.18,0A0.18,0.18 0 1,1 0.18,0", "symbolSize": 1050, "symbolStrokeWidth": 3.5, "labelOffset": 4, "columnPadding": 10, "offset": 5, "padding": 0, "layout": {"top": {"anchor": "middle"}}}
}
}
